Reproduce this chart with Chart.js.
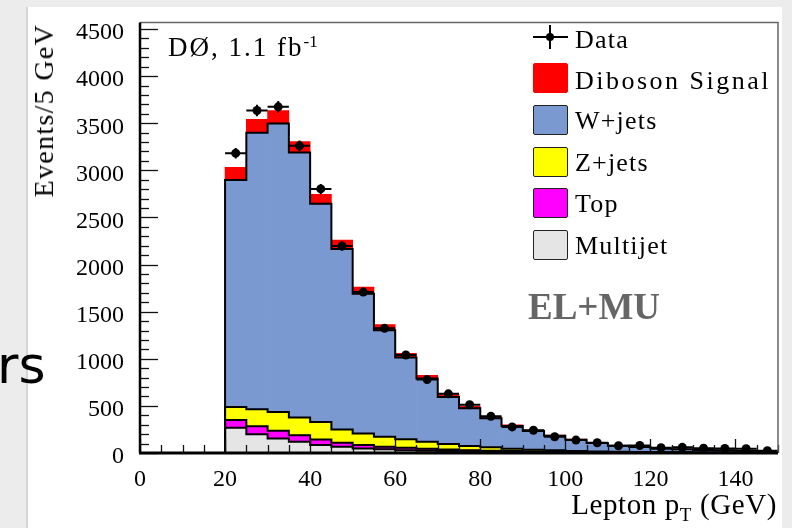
<!DOCTYPE html>
<html>
<head>
<meta charset="utf-8">
<script src="https://cdn.jsdelivr.net/npm/chart.js@4.4.1/dist/chart.umd.min.js"></script>
<style>
  html, body { margin: 0; padding: 0; }
  body { width: 792px; height: 528px; background: #ececec; overflow: hidden; position: relative; font-family: "Liberation Serif", serif; }
  #pad { position: absolute; left: 26px; top: 7px; width: 754px; height: 521px; background: #fff; border-left: 2px solid #d6d6d6; }
  #wrap { position: absolute; left: 0; top: 0; width: 792px; height: 528px; }
  .t { position: absolute; white-space: nowrap; line-height: 1; color: #000; }
  .box { position: absolute; width: 33px; height: 28px; border: 1.5px solid #222; border-radius: 2px; }
</style>
</head>
<body>
<div id="pad"></div>
<div class="t" style="left:-3px; top:339px; font-family:'DejaVu Sans'; font-size:52px;">rs</div>
<div id="wrap"><canvas id="chart"></canvas></div>

<!-- axis titles -->
<div class="t" style="left:30px; top:24px; font-size:28px; letter-spacing:1.3px; writing-mode:vertical-rl; transform:rotate(180deg);">Events/5 GeV</div>
<div class="t" style="right:15px; top:490px; font-size:29px; letter-spacing:0.6px;">Lepton p<sub style="font-size:19px; vertical-align:-7px;">T</sub> (GeV)</div>

<!-- annotations -->
<div class="t" style="left:168px; top:33px; font-size:27px; letter-spacing:2px;">DØ, 1.1 fb<sup style="font-size:17px; vertical-align:9px; letter-spacing:0;">-1</sup></div>
<div class="t" style="left:528px; top:288px; font-size:37px; font-weight:bold; color:#666;">EL+MU</div>

<!-- legend -->
<div style="position:absolute; left:533px; top:36px; width:35px; height:2px; background:#000;"></div>
<div style="position:absolute; left:549px; top:25px; width:2px; height:24px; background:#000;"></div>
<div style="position:absolute; left:546px; top:33px; width:8px; height:8px; border-radius:50%; background:#000;"></div>
<div class="t" style="left:575px; top:27px; font-size:26px; letter-spacing:1.2px;">Data</div>
<div class="box" style="left:533px; top:63px; background:#ff0000; border-color:#ff0000;"></div>
<div class="t" style="left:575px; top:68px; font-size:26px; letter-spacing:2.5px;">Diboson Signal</div>
<div class="box" style="left:533px; top:105px; background:#7a99d1;"></div>
<div class="t" style="left:575px; top:108px; font-size:26px; letter-spacing:1.2px;">W+jets</div>
<div class="box" style="left:533px; top:147px; background:#ffff00;"></div>
<div class="t" style="left:575px; top:150px; font-size:26px; letter-spacing:1.2px;">Z+jets</div>
<div class="box" style="left:533px; top:188px; background:#ff00ff;"></div>
<div class="t" style="left:575px; top:191px; font-size:26px; letter-spacing:1.2px;">Top</div>
<div class="box" style="left:533px; top:230px; background:#e5e5e5;"></div>
<div class="t" style="left:575px; top:233px; font-size:26px; letter-spacing:1.2px;">Multijet</div>

<script>
// bins (GeV), 5 GeV wide
const binCenters = [22.5, 27.5, 32.5, 37.5, 42.5, 47.5, 52.5, 57.5, 62.5, 67.5, 72.5, 77.5, 82.5,
  87.5, 92.5, 97.5, 102.5, 107.5, 112.5, 117.5, 122.5, 127.5, 132.5, 137.5, 142.5, 147.5];
const binEdges = [20, 25, 30, 35, 40, 45, 50, 55, 60, 65, 70, 75, 80, 85, 90, 95, 100, 105, 110,
  115, 120, 125, 130, 135, 140, 145, 150];

// backgrounds + signal, bottom to top of the stack
const multijet = [268, 200, 154, 119, 84, 67, 49, 39, 30, 25, 20, 15, 12, 9, 7, 5, 4, 3, 3, 2, 2, 2, 1, 1, 1, 1];
const topQuark = [82, 84, 81, 70, 60, 42, 35, 28, 25, 20, 18, 15, 13, 11, 9, 8, 6, 5, 4, 4, 3, 3, 2, 2, 2, 1];
const zjets = [138, 179, 200, 187, 186, 140, 123, 105, 92, 74, 57, 44, 35, 26, 19, 15, 12, 9, 7, 5, 4, 3, 3, 2, 2, 1];
const wjets = [2410, 2937, 3063, 2813, 2315, 1916, 1484, 1130, 867, 671, 500, 401, 310, 240, 199, 154,
  119, 88, 63, 53, 37, 33, 27, 23, 20, 15];
const diboson = [133, 140, 137, 116, 99, 95, 70, 62, 45, 34, 26, 20, 15, 12, 9, 7, 6, 5, 4, 3, 3, 2, 2, 2, 1, 1];

// data points and their errors
const dataVals = [3182, 3635, 3674, 3260, 2803, 2197, 1708, 1323, 1040, 779, 628, 512, 389, 277, 242,
  172, 137, 109, 77, 80, 56, 60, 50, 48, 45, 25];
const dataErr = [56, 60, 61, 57, 53, 47, 41, 36, 32, 28, 25, 23, 20, 17, 16, 13, 12, 10, 9, 9, 7, 8, 7, 7, 7, 5];

// tick labels
const yTicks = [0, 500, 1000, 1500, 2000, 2500, 3000, 3500, 4000, 4500];
const xTicks = [0, 20, 40, 60, 80, 100, 120, 140];

const serif = "'Liberation Serif', 'Times New Roman', serif";

function points(arr) {
  return binCenters.map((c, i) => ({ x: c, y: arr[i] }));
}

// step outline along the top of a stack layer
function outline(layers) {
  let cum = binCenters.map((c, i) => {
    let s = 0;
    for (let k = 0; k < layers.length; k++) s += layers[k][i];
    return s;
  });
  let pts = [{ x: binEdges[0], y: 0 }];
  for (let i = 0; i < cum.length; i++) pts.push({ x: binEdges[i], y: cum[i] });
  pts.push({ x: binEdges[binEdges.length - 1], y: cum[cum.length - 1] });
  return pts;
}

function lineSet(layers, n) {
  return {
    type: "line",
    data: outline(layers),
    borderColor: "#000",
    borderWidth: 2,
    pointRadius: 0,
    stepped: true,
    fill: false,
    stack: "outline" + n
  };
}

function barSet(label, arr, color) {
  return {
    type: "bar",
    label: label,
    data: points(arr),
    backgroundColor: color,
    borderWidth: 0,
    barPercentage: 1,
    categoryPercentage: 1,
    stack: "mc"
  };
}

// error bars + frame + inner ticks
const decor = {
  id: "decor",
  afterDatasetsDraw(chart) {
    const ctx = chart.ctx;
    const a = chart.chartArea;
    const x = chart.scales.x;
    const y = chart.scales.y;
    ctx.save();

    ctx.strokeStyle = "#000";
    ctx.lineWidth = 2;
    for (let i = 0; i < dataVals.length; i++) {
      let px = x.getPixelForValue(binCenters[i]);
      let py = y.getPixelForValue(dataVals[i]);
      ctx.beginPath();
      ctx.moveTo(x.getPixelForValue(binEdges[i]), py);
      ctx.lineTo(x.getPixelForValue(binEdges[i + 1]), py);
      ctx.moveTo(px, y.getPixelForValue(dataVals[i] - dataErr[i]));
      ctx.lineTo(px, y.getPixelForValue(dataVals[i] + dataErr[i]));
      ctx.stroke();
    }

    // ticks inside the frame
    ctx.lineWidth = 1.3;
    ctx.strokeStyle = "#111";
    for (let v = 0; v <= 4500; v += 100) {
      let py = Math.round(y.getPixelForValue(v)) + 0.5;
      let len = v % 500 === 0 ? 18 : 9;
      ctx.beginPath();
      ctx.moveTo(a.left, py);
      ctx.lineTo(a.left + len, py);
      ctx.stroke();
    }
    for (let v = 0; v <= 150; v += 5) {
      let px = Math.round(x.getPixelForValue(v)) + 0.5;
      let len = v % 20 === 0 ? 14 : 8;
      ctx.beginPath();
      ctx.moveTo(px, a.bottom);
      ctx.lineTo(px, a.bottom - len);
      ctx.stroke();
    }

    // frame
    ctx.strokeStyle = "#666";
    ctx.lineWidth = 1.5;
    ctx.beginPath();
    ctx.moveTo(a.left, a.top);
    ctx.lineTo(a.right, a.top);
    ctx.lineTo(a.right, a.bottom);
    ctx.stroke();
    ctx.strokeStyle = "#000";
    ctx.lineWidth = 2.5;
    ctx.beginPath();
    ctx.moveTo(a.left, a.top);
    ctx.lineTo(a.left, a.bottom);
    ctx.stroke();
    ctx.lineWidth = 3;
    ctx.beginPath();
    ctx.moveTo(a.left - 1, a.bottom);
    ctx.lineTo(a.right, a.bottom);
    ctx.stroke();

    ctx.restore();
  }
};

new Chart(document.getElementById("chart"), {
  type: "bar",
  data: {
    datasets: [
      {
        type: "scatter",
        label: "Data",
        data: points(dataVals),
        pointStyle: "circle",
        pointRadius: 4.5,
        backgroundColor: "#000",
        borderWidth: 0,
        stack: "data"
      },
      lineSet([multijet, topQuark, zjets, wjets], 4),
      lineSet([multijet, topQuark, zjets], 3),
      lineSet([multijet, topQuark], 2),
      lineSet([multijet], 1),
      barSet("Multijet", multijet, "#e5e5e5"),
      barSet("Top", topQuark, "#ff00ff"),
      barSet("Z+jets", zjets, "#ffff00"),
      barSet("W+jets", wjets, "#7a99d1"),
      barSet("Diboson Signal", diboson, "#ff0000")
    ]
  },
  options: {
    responsive: true,
    maintainAspectRatio: false,
    animation: false,
    layout: { padding: { top: 19, right: 14, left: 0, bottom: 0 } },
    plugins: {
      legend: { display: false },
      tooltip: { enabled: false }
    },
    scales: {
      x: {
        type: "linear",
        min: 0,
        max: 150,
        stacked: true,
        offset: false,
        grid: { display: false },
        border: { display: false },
        afterBuildTicks: function (s) { s.ticks = xTicks.map(v => ({ value: v })); },
        ticks: {
          maxRotation: 0,
          autoSkip: false,
          padding: 4,
          color: "#000",
          font: { family: serif, size: 24 },
          callback: v => String(v)
        },
        afterFit: function (s) { s.height = 75; }
      },
      y: {
        type: "linear",
        min: 0,
        max: 4570,
        stacked: true,
        grid: { display: false },
        border: { display: false },
        afterBuildTicks: function (s) { s.ticks = yTicks.map(v => ({ value: v })); },
        ticks: {
          autoSkip: false,
          padding: 8,
          labelOffset: 4,
          color: "#000",
          font: { family: serif, size: 24 },
          callback: v => String(v)
        },
        afterFit: function (s) { s.width = 140; }
      }
    }
  },
  plugins: [decor]
});
</script>
</body>
</html>
